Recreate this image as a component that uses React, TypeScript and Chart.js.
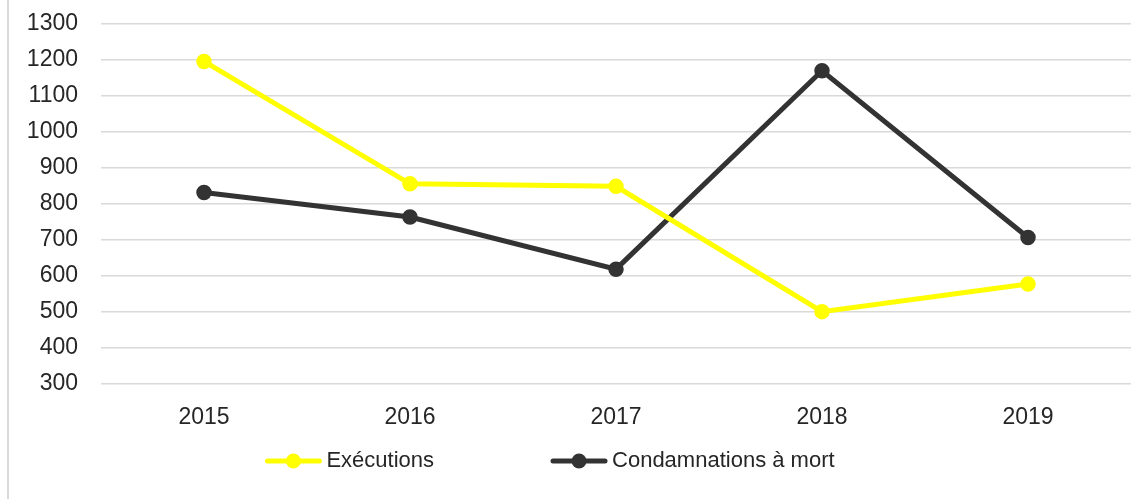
import React, { useEffect, useRef } from "react";
import { Chart, registerables } from "chart.js";

Chart.register(...registerables);

const years = ["2015", "2016", "2017", "2018", "2019"];
const executions = [1196, 856, 849, 501, 578];
const condamnations = [832, 764, 619, 1170, 707];
const seriesLabels = ["Exécutions", "Condamnations à mort"];
const seriesColors = ["#FFFF00", "#333333"];
const yTicks = [300, 400, 500, 600, 700, 800, 900, 1000, 1100, 1200, 1300];

const FONT = "'Liberation Sans', Arial, sans-serif";
const TEXT = "#262626";

const legendPlugin = {
  id: "customLegend",
  afterDraw(chart: any) {
    const ctx = chart.ctx as CanvasRenderingContext2D;
    const fontSize = 22;
    const lineW = 56;
    const textGap = 5;
    const itemGap = 117;
    const centerX = 550;
    const y = 461;
    ctx.save();
    ctx.font = `${fontSize}px ${FONT}`;
    const items = chart.data.datasets.map((ds: any) => ({
      text: ds.label as string,
      color: ds.borderColor as string,
      w: ctx.measureText(ds.label).width,
    }));
    const total =
      items.reduce((s: number, it: any) => s + lineW + textGap + it.w, 0) +
      itemGap * (items.length - 1);
    let x = centerX - total / 2;
    items.forEach((it: any) => {
      ctx.strokeStyle = it.color;
      ctx.fillStyle = it.color;
      ctx.lineWidth = 5;
      ctx.lineCap = "round";
      ctx.beginPath();
      ctx.moveTo(x + 2, y);
      ctx.lineTo(x + lineW - 2, y);
      ctx.stroke();
      ctx.beginPath();
      ctx.arc(x + lineW / 2, y, 7.5, 0, Math.PI * 2);
      ctx.fill();
      ctx.fillStyle = TEXT;
      ctx.textBaseline = "middle";
      ctx.textAlign = "left";
      ctx.fillText(it.text, x + lineW + textGap, y);
      x += lineW + textGap + it.w + itemGap;
    });
    ctx.restore();
  },
};

export default function App() {
  const ref = useRef<HTMLCanvasElement | null>(null);
  useEffect(() => {
    if (!ref.current) return;
    const chart = new Chart(ref.current, {
      type: "line",
      data: {
        labels: years,
        datasets: [
          {
            label: seriesLabels[0],
            data: executions,
            borderColor: seriesColors[0],
            backgroundColor: seriesColors[0],
            borderWidth: 5,
            pointRadius: 7,
            pointBorderWidth: 1.5,
            pointBackgroundColor: seriesColors[0],
            pointBorderColor: seriesColors[0],
            tension: 0,
          },
          {
            label: seriesLabels[1],
            data: condamnations,
            borderColor: seriesColors[1],
            backgroundColor: seriesColors[1],
            borderWidth: 5,
            pointRadius: 7,
            pointBorderWidth: 1.5,
            pointBackgroundColor: seriesColors[1],
            pointBorderColor: seriesColors[1],
            tension: 0,
          },
        ],
      },
      options: {
        animation: false,
        responsive: true,
        maintainAspectRatio: false,
        layout: { padding: { left: 20, right: 14, top: 24, bottom: 71 } },
        plugins: {
          legend: { display: false },
          tooltip: { enabled: false },
        },
        scales: {
          x: {
            offset: true,
            grid: { display: false, drawTicks: false },
            border: { display: false },
            ticks: {
              padding: 20,
              color: TEXT,
              font: { family: FONT, size: 23 },
            },
            afterFit: (axis: any) => {
              axis.height = 44;
            },
          },
          y: {
            min: yTicks[0],
            max: yTicks[yTicks.length - 1],
            afterBuildTicks: (axis: any) => {
              axis.ticks = yTicks.map((v) => ({ value: v }));
            },
            grid: { color: "#d9d9d9", lineWidth: 1.5, drawTicks: false },
            border: { display: false },
            ticks: {
              padding: 23,
              color: TEXT,
              font: { family: FONT, size: 23 },
              callback: (v: any) => String(v),
            },
            afterFit: (axis: any) => {
              axis.width = 81;
              axis.paddingTop = 0;
              axis.paddingBottom = 0;
            },
          },
        },
      },
      plugins: [legendPlugin],
    });
    return () => chart.destroy();
  }, []);
  return (
    <div
      style={{
        position: "fixed",
        left: 0,
        top: 0,
        width: 1145,
        height: 499,
        background: "#fff",
      }}
    >
      <div
        style={{
          position: "absolute",
          left: 7,
          top: 0,
          width: 2,
          height: 499,
          background: "#d9d9d9",
        }}
      />
      <canvas ref={ref} />
    </div>
  );
}
